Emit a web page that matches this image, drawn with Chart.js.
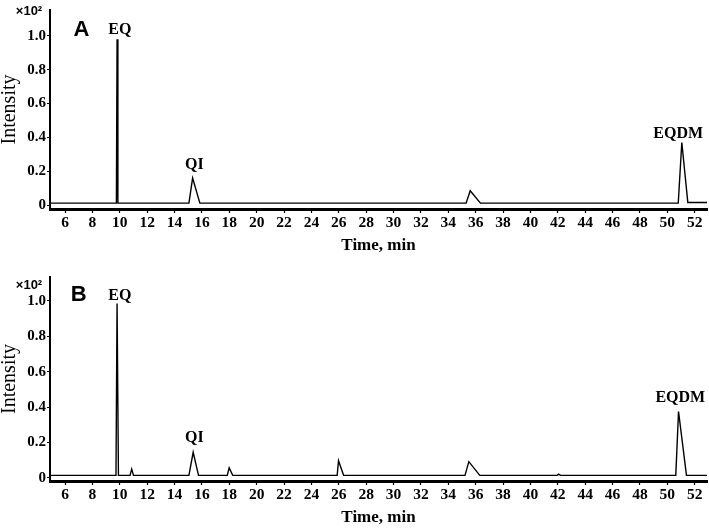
<!DOCTYPE html>
<html>
<head>
<meta charset="utf-8">
<script src="https://cdn.jsdelivr.net/npm/chart.js@4.4.0/dist/chart.umd.min.js"></script>
<style>
  html, body { margin: 0; padding: 0; background: #fff; }
  .panel { position: absolute; left: 0; width: 709px; height: 265px; }
</style>
</head>
<body>
<div class="panel" style="top:0"><canvas id="chartA" width="709" height="265"></canvas></div>
<div class="panel" style="top:265px"><canvas id="chartB" width="709" height="265"></canvas></div>
<script>
// tick values
const xTicks = [6, 8, 10, 12, 14, 16, 18, 20, 22, 24, 26, 28, 30, 32, 34, 36, 38, 40, 42, 44, 46, 48, 50, 52];
const yTicks = [0, 0.2, 0.4, 0.6, 0.8, 1.0];
const yTickLabels = ['0', '0.2', '0.4', '0.6', '0.8', '1.0'];

// panel A trace (min, x10^2 intensity)
const timeA = [4.9, 9.75, 9.8, 9.86, 15.05, 15.32, 15.85, 35.3, 35.6, 36.35, 50.8, 51.06, 51.5, 52.9];
const intensityA = [0.012, 0.012, 0.98, 0.012, 0.012, 0.16, 0.012, 0.012, 0.085, 0.012, 0.012, 0.37, 0.016, 0.016];

// panel B trace
const timeB = [4.9, 9.72, 9.8, 9.9, 10.75, 10.87, 11.0, 15.05, 15.36, 15.75, 17.85, 17.99, 18.25,
  25.88, 25.98, 26.35, 35.22, 35.5, 36.3, 41.95, 42.06, 42.2, 50.62, 50.82, 51.4, 52.9];
const intensityB = [0.015, 0.015, 0.985, 0.015, 0.015, 0.05, 0.015, 0.015, 0.145, 0.015, 0.015, 0.057, 0.015,
  0.015, 0.097, 0.015, 0.015, 0.092, 0.015, 0.015, 0.022, 0.015, 0.015, 0.375, 0.015, 0.015];

// peak names
const peakNames = ['EQ', 'QI', 'EQDM'];

const serif = '"Liberation Serif", "Times New Roman", serif';
const sans = '"Liberation Sans", Arial, sans-serif';

// text on the plot: peak names, panel letter, x10^2
const notesPlugin = {
  id: 'notes',
  afterDraw(chart, args, opts) {
    const c = chart.ctx;
    const xs = chart.scales.x;
    const ys = chart.scales.y;
    c.save();
    c.fillStyle = '#000';
    c.textAlign = 'center';
    c.textBaseline = 'middle';
    c.font = 'bold 16px ' + serif;
    opts.peaks.forEach((p, i) => {
      c.fillText(peakNames[i], xs.getPixelForValue(p[0]), ys.getPixelForValue(p[1]));
    });
    c.font = 'bold 22px ' + sans;
    c.fillText(opts.letter, xs.getPixelForValue(opts.letterPos[0]), ys.getPixelForValue(opts.letterPos[1]));
    c.font = 'bold 13px ' + sans;
    c.fillText('×10²', 29, opts.expY);
    c.restore();
  },
};

function makeChart(id, times, values, cfg) {
  const points = times.map((t, i) => ({ x: t, y: values[i] }));
  return new Chart(document.getElementById(id), {
    type: 'line',
    data: {
      datasets: [{
        data: points,
        borderColor: '#000',
        borderWidth: 1.4,
        pointRadius: 0,
        tension: 0,
        fill: false,
      }],
    },
    plugins: [notesPlugin],
    options: {
      responsive: false,
      animation: false,
      layout: { padding: { top: cfg.top, right: 2, left: 0, bottom: 0 } },
      plugins: {
        legend: { display: false },
        tooltip: { enabled: false },
        notes: cfg.notes,
      },
      scales: {
        x: {
          type: 'linear',
          min: 4.9,
          max: 52.9,
          afterBuildTicks: (s) => { s.ticks = xTicks.map((v) => ({ value: v })); },
          afterFit: (s) => { s.height = cfg.xHeight; },
          ticks: {
            color: '#000',
            font: { family: serif, size: 15.5, weight: 'bold' },
            padding: 1,
            maxRotation: 0,
            autoSkip: false,
          },
          grid: { drawOnChartArea: false, tickLength: 4, color: '#000', tickWidth: 1.2 },
          border: { color: '#000', width: 3 },
          title: {
            display: true,
            text: 'Time, min',
            color: '#000',
            font: { family: serif, size: 17, weight: 'bold' },
            padding: { top: 0, bottom: cfg.titlePad },
          },
        },
        y: {
          type: 'linear',
          min: cfg.yMin,
          max: cfg.yMax,
          afterBuildTicks: (s) => { s.ticks = yTicks.map((v) => ({ value: v })); },
          afterFit: (s) => { s.width = 50; },
          ticks: {
            color: '#000',
            font: { family: serif, size: 15, weight: 'bold' },
            padding: 1,
            callback: (v) => yTickLabels[yTicks.indexOf(v)],
          },
          grid: { drawOnChartArea: false, tickLength: 3, color: '#000', tickWidth: 1.2 },
          border: { color: '#000', width: 2 },
          title: {
            display: true,
            text: 'Intensity',
            color: '#000',
            font: { family: serif, size: 20, lineHeight: 1 },
            padding: 0,
          },
        },
      },
    },
  });
}

makeChart('chartA', timeA, intensityA, {
  top: 1, xHeight: 56, titlePad: 9, yMin: -0.0226, yMax: 1.153,
  notes: { peaks: [[10.0, 1.035], [15.45, 0.237], [50.8, 0.42]], letter: 'A', letterPos: [7.2, 1.035], expY: 11 },
});

makeChart('chartB', timeB, intensityB, {
  top: 12, xHeight: 49, titlePad: 2, yMin: -0.017, yMax: 1.134,
  notes: { peaks: [[10.0, 1.03], [15.45, 0.226], [50.95, 0.45]], letter: 'B', letterPos: [7.0, 1.03], expY: 20 },
});
</script>
</body>
</html>
